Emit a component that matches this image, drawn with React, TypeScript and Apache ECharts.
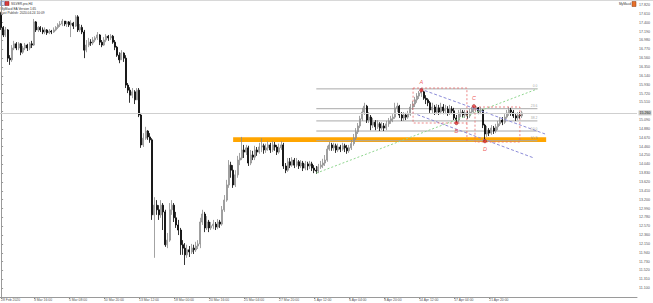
import React, { useEffect, useRef } from "react";
import * as echarts from "echarts";

// ---------- data (SILVER.pro, H4) ----------
const firstOpen = 17.58;
const closes = [
  17.29, 17.11, 17.23, 16.56, 16.52, 16.80, 16.90, 16.80, 16.90, 16.70,
  16.80, 16.87, 16.80, 16.90, 16.87, 17.42, 17.23, 17.29, 17.23, 17.18,
  17.23, 17.16, 17.20, 17.18, 17.23, 17.29, 17.35, 17.37, 17.44, 17.37,
  17.42, 17.35, 17.39, 17.32, 17.54, 17.23, 17.29, 17.18, 16.75, 16.87,
  16.94, 16.92, 16.99, 17.04, 17.11, 16.94, 16.87, 16.99, 17.08, 17.04,
  17.08, 16.94, 16.82, 16.63, 16.52, 16.68, 16.56, 15.92, 15.80, 15.68,
  15.76, 15.57, 15.80, 15.21, 14.50, 14.66, 14.83, 14.69, 14.62, 12.84,
  13.07, 12.96, 12.84, 13.07, 12.91, 12.13, 12.24, 12.96, 13.07, 12.77,
  12.60, 12.48, 12.13, 12.05, 11.89, 12.01, 11.96, 12.05, 12.01, 12.10,
  12.15, 12.67, 12.86, 12.53, 12.67, 12.53, 12.58, 12.62, 12.55, 12.67,
  12.62, 12.96, 13.19, 13.55, 14.02, 13.90, 13.55, 13.79, 14.14, 14.19,
  14.38, 14.33, 14.43, 14.07, 14.26, 14.21, 14.38, 14.33, 14.45, 14.48,
  14.38, 14.43, 14.50, 14.38, 14.50, 14.45, 14.33, 14.43, 14.50, 14.00,
  13.90, 14.10, 14.02, 14.14, 14.02, 14.10, 14.00, 14.07, 13.95, 14.05,
  14.00, 14.05, 13.95, 13.90, 13.88, 13.98, 14.02, 14.07, 14.14, 14.40,
  14.50, 14.43, 14.48, 14.38, 14.45, 14.40, 14.48, 14.43, 14.36, 14.43,
  14.53, 14.66, 14.81, 14.95, 15.12, 15.28, 15.42, 15.09, 15.16, 14.97,
  15.04, 14.93, 15.00, 14.90, 14.95, 14.90, 15.00, 15.07, 15.12, 15.16,
  15.38, 15.42, 15.21, 15.14, 15.21, 15.16, 15.23, 15.40, 15.47, 15.57,
  15.66, 15.73, 15.76, 15.61, 15.57, 15.50, 15.33, 15.40, 15.28, 15.38,
  15.28, 15.40, 15.31, 15.35, 15.26, 15.35, 15.31, 15.14, 15.09, 15.26,
  15.28, 15.21, 15.26, 15.19, 15.28, 15.35, 15.35, 15.38, 15.28, 15.33,
  14.97, 14.76, 14.85, 14.78, 14.90, 14.83, 14.93, 15.00, 15.09, 15.04,
  15.16, 15.26, 15.33, 15.28, 15.19, 15.14, 15.21, 15.19, 15.26,
];
const highs = [
  17.65, 17.32, 17.30, 17.25, 16.63, 16.87, 16.97, 16.94, 16.94, 16.92,
  16.85, 16.92, 16.90, 16.94, 16.97, 17.49, 17.44, 17.32, 17.32, 17.29,
  17.29, 17.25, 17.25, 17.23, 17.29, 17.32, 17.39, 17.44, 17.49, 17.44,
  17.44, 17.44, 17.46, 17.42, 17.58, 17.58, 17.37, 17.35, 17.23, 16.99,
  17.04, 17.01, 17.06, 17.08, 17.18, 17.13, 16.99, 17.06, 17.13, 17.11,
  17.13, 17.11, 16.99, 16.85, 16.70, 16.75, 16.70, 16.63, 15.97, 15.87,
  15.85, 15.80, 15.85, 15.85, 15.26, 14.78, 14.93, 14.85, 14.78, 14.66,
  13.26, 13.19, 13.07, 13.19, 13.12, 12.96, 12.41, 13.12, 13.19, 13.12,
  12.91, 12.72, 12.53, 12.24, 12.17, 12.13, 12.10, 12.15, 12.13, 12.20,
  12.24, 12.77, 12.96, 12.91, 12.81, 12.72, 12.67, 12.72, 12.67, 12.74,
  12.72, 13.05, 13.31, 13.67, 14.14, 14.10, 14.02, 13.90, 14.24, 14.31,
  14.69, 14.50, 14.50, 14.48, 14.38, 14.36, 14.48, 14.45, 14.55, 14.66,
  14.53, 14.53, 14.59, 14.55, 14.59, 14.57, 14.50, 14.53, 14.59, 14.55,
  14.07, 14.19, 14.19, 14.21, 14.19, 14.19, 14.14, 14.14, 14.12, 14.12,
  14.10, 14.12, 14.10, 14.02, 14.00, 14.05, 14.12, 14.17, 14.26, 14.48,
  14.57, 14.55, 14.55, 14.53, 14.53, 14.50, 14.55, 14.53, 14.50, 14.50,
  14.62, 14.76, 14.90, 15.02, 15.19, 15.38, 15.50, 15.45, 15.28, 15.21,
  15.14, 15.09, 15.09, 15.04, 15.04, 15.02, 15.07, 15.14, 15.19, 15.23,
  15.50, 15.50, 15.45, 15.28, 15.28, 15.26, 15.31, 15.47, 15.54, 15.64,
  15.73, 15.78, 15.80, 15.78, 15.68, 15.61, 15.54, 15.50, 15.45, 15.47,
  15.45, 15.50, 15.47, 15.45, 15.42, 15.45, 15.42, 15.38, 15.21, 15.33,
  15.35, 15.33, 15.33, 15.31, 15.35, 15.40, 15.42, 15.42, 15.40, 15.40,
  15.35, 15.00, 14.95, 14.90, 14.97, 14.95, 15.00, 15.07, 15.16, 15.16,
  15.23, 15.33, 15.40, 15.38, 15.33, 15.26, 15.28, 15.28, 15.31,
];
const lows = [
  17.23, 17.06, 17.06, 16.47, 16.40, 16.47, 16.75, 16.75, 16.75, 16.63,
  16.66, 16.75, 16.73, 16.75, 16.80, 16.85, 17.18, 17.18, 17.18, 17.13,
  17.13, 17.11, 17.13, 17.13, 17.16, 17.20, 17.25, 17.30, 17.32, 17.32,
  17.30, 17.30, 17.06, 17.25, 17.30, 17.18, 17.18, 17.13, 16.56, 16.70,
  16.82, 16.85, 16.87, 16.94, 16.99, 16.87, 16.82, 16.85, 16.94, 16.97,
  16.99, 16.90, 16.75, 16.59, 16.44, 16.52, 16.47, 15.85, 15.73, 15.50,
  15.61, 15.47, 15.57, 15.16, 14.43, 14.45, 14.62, 14.62, 14.55, 12.72,
  11.82, 12.84, 12.72, 12.77, 12.48, 12.08, 12.05, 12.20, 12.84, 12.67,
  12.53, 12.36, 11.89, 11.89, 11.65, 11.82, 11.84, 11.91, 11.91, 11.96,
  12.03, 12.05, 12.60, 12.43, 12.48, 12.43, 12.48, 12.50, 12.48, 12.50,
  12.53, 12.58, 12.91, 13.15, 13.48, 13.72, 13.48, 13.50, 13.72, 14.02,
  14.14, 14.19, 14.26, 14.00, 14.02, 14.14, 14.14, 14.24, 14.29, 14.33,
  14.29, 14.31, 14.36, 14.31, 14.33, 14.36, 14.26, 14.29, 14.38, 13.93,
  13.83, 13.86, 13.95, 13.98, 13.95, 13.98, 13.93, 13.95, 13.88, 13.90,
  13.90, 13.93, 13.88, 13.83, 13.81, 13.83, 13.93, 13.95, 14.00, 14.10,
  14.36, 14.36, 14.36, 14.31, 14.33, 14.33, 14.36, 14.33, 14.29, 14.31,
  14.38, 14.48, 14.62, 14.76, 14.90, 15.07, 15.21, 15.02, 15.02, 14.85,
  14.90, 14.85, 14.88, 14.83, 14.85, 14.83, 14.85, 14.93, 15.00, 15.04,
  15.12, 15.28, 15.14, 15.07, 15.07, 15.09, 15.12, 15.19, 15.33, 15.40,
  15.50, 15.59, 15.64, 15.57, 15.47, 15.42, 15.26, 15.26, 15.21, 15.23,
  15.21, 15.23, 15.23, 15.23, 15.19, 15.21, 15.23, 15.09, 15.02, 15.04,
  15.16, 15.14, 15.14, 15.12, 15.14, 15.23, 15.26, 15.28, 15.23, 15.23,
  14.90, 14.59, 14.69, 14.71, 14.74, 14.76, 14.78, 14.85, 14.95, 14.97,
  15.00, 15.12, 15.19, 15.19, 15.14, 15.07, 15.09, 15.12, 15.14,
];

// x axis: bar slots (incl. empty right margin) and labelled bars
const totalSlots = 291;
const tickBars = [0, 15, 31, 47, 63, 79, 95, 111, 127, 143, 159, 175, 191, 207, 223];
const tickLabels = [
  "28 Feb 2020", "3 Mar 16:00", "5 Mar 08:00", "10 Mar 20:00", "13 Mar 12:00",
  "18 Mar 00:00", "20 Mar 16:00", "25 Mar 04:00", "27 Mar 20:00", "1 Apr 12:00",
  "6 Apr 04:00", "8 Apr 20:00", "14 Apr 12:00", "17 Apr 04:00", "21 Apr 20:00",
];

// y axis
const yMin = 10.89;
const yMax = 17.94;
const yStep = 0.21;
const bidPrice = 15.26;

// drawings (bar index, price)
const fibLevels = ["0.0", "23.6", "38.2", "50.0", "61.8"];
const fibPrices = [15.83, 15.36, 15.07, 14.83, 14.6];
const fibBars = [144, 245];
const trendBars = [144, 245];
const trendPrices = [13.83, 15.83];
const channelUpperBars = [191.4, 248.5];
const channelUpperPrices = [15.83, 14.76];
const channelLowerBars = [188, 243.4];
const channelLowerPrices = [15.26, 14.19];
const zoneBars = [106, 249];
const zonePrices = [14.68, 14.57];
const box1Bars = [188.2, 212.8];
const box1Prices = [15.85, 15.02];
const box2Bars = [216.5, 237];
const box2Prices = [15.4, 14.57];
const splitBar = 212.8;
const splitPrices = [15.02, 14.57];
const markerLetters = ["A", "B", "C", "D"];
const markerBars = [192, 208, 216, 221];
const markerPrices = [15.8, 15.02, 15.42, 14.59];
const markerPlace = ["top", "bottom", "top", "bottom"];

const FONT = "Liberation Sans";

export default function App() {
  const ref = useRef<HTMLDivElement>(null);

  useEffect(() => {
    document.body.style.margin = "0";
    if (!ref.current) return;
    const chart = echarts.init(ref.current, null, { renderer: "svg" });

    const candles = closes.map((c, i) => {
      const o = i === 0 ? firstOpen : closes[i - 1];
      return [o, c, Math.min(lows[i], o, c), Math.max(highs[i], o, c)];
    });
    const tickSet = new Set(tickBars);
    const categories = Array.from({ length: totalSlots }, (_, i) => {
      const k = tickBars.indexOf(i);
      return k >= 0 ? tickLabels[k] : "";
    });
    const isTick = (index: number) => tickSet.has(index);

    const seg = (data: number[][], color: string, type: any, width = 1, z = 4) => ({
      type: "line",
      xAxisIndex: 1,
      yAxisIndex: 0,
      data,
      symbol: "none",
      showSymbol: false,
      silent: true,
      lineStyle: { color, type, width },
      z,
    });
    const box = (bx: number[], py: number[]) => [
      [bx[0], py[0]], [bx[1], py[0]], [bx[1], py[1]], [bx[0], py[1]], [bx[0], py[0]],
    ];

    const series: any[] = [
      {
        type: "line",
        xAxisIndex: 1,
        yAxisIndex: 0,
        data: [[zoneBars[0], (zonePrices[0] + zonePrices[1]) / 2], [zoneBars[1], (zonePrices[0] + zonePrices[1]) / 2]],
        symbol: "none",
        showSymbol: false,
        silent: true,
        lineStyle: { opacity: 0 },
        z: 1,
        markArea: {
          silent: true,
          itemStyle: { color: "#ffa500", opacity: 1 },
          data: [[{ coord: [zoneBars[0], zonePrices[0]] }, { coord: [zoneBars[1], zonePrices[1]] }]],
        },
      },
      {
        type: "candlestick",
        xAxisIndex: 0,
        yAxisIndex: 0,
        data: candles,
        barWidth: 1.5,
        z: 3,
        itemStyle: {
          color: "#d4d4d4",
          color0: "#000000",
          borderColor: "#8c8c8c",
          borderColor0: "#000000",
          borderWidth: 0.8,
        },
        markLine: {
          silent: true,
          symbol: ["none", "none"],
          data: [{ yAxis: bidPrice }],
          lineStyle: { color: "#cfcfcf", type: "solid", width: 1 },
          label: {
            show: true,
            position: "end",
            distance: 1.5,
            formatter: bidPrice.toFixed(3),
            fontSize: 3.6,
            fontFamily: FONT,
            color: "#222",
            backgroundColor: "#c8c8c8",
            padding: [0.5, 1],
          },
        },
      },
      ...fibPrices.map((p) => seg([[fibBars[0], p], [fibBars[1], p]], "#a9a9a9", "solid", 1, 2)),
      seg([[trendBars[0], trendPrices[0]], [trendBars[1], trendPrices[1]]], "#8fd68f", [2, 2], 1),
      seg([[channelUpperBars[0], channelUpperPrices[0]], [channelUpperBars[1], channelUpperPrices[1]]], "#8c8cd8", [3, 2], 1),
      seg([[channelLowerBars[0], channelLowerPrices[0]], [channelLowerBars[1], channelLowerPrices[1]]], "#8c8cd8", [3, 2], 1),
      seg(box(box1Bars, box1Prices), "#e86a6a", [2, 2], 0.8, 5),
      seg(box(box2Bars, box2Prices), "#e86a6a", [2, 2], 0.8, 5),
      seg([[splitBar, splitPrices[0]], [splitBar, splitPrices[1]]], "#e86a6a", [2, 2], 0.8, 5),
      {
        type: "scatter",
        xAxisIndex: 1,
        yAxisIndex: 0,
        silent: true,
        symbolSize: 1,
        itemStyle: { color: "rgba(0,0,0,0)" },
        z: 6,
        data: fibPrices.map((p, i) => ({
          value: [fibBars[1], p],
          label: { formatter: fibLevels[i] },
        })),
        label: {
          show: true,
          position: "top",
          align: "right",
          distance: 0.5,
          fontSize: 3.4,
          fontFamily: FONT,
          color: "#8a8a8a",
        },
      },
      {
        type: "scatter",
        xAxisIndex: 1,
        yAxisIndex: 0,
        silent: true,
        symbol: "circle",
        symbolSize: 3.5,
        itemStyle: { color: "#e83030", borderColor: "#7a1c1c", borderWidth: 0.5 },
        z: 7,
        data: markerBars.map((b, i) => ({
          value: [b, markerPrices[i]],
          label: { position: markerPlace[i], formatter: markerLetters[i] },
        })),
        label: {
          show: true,
          distance: 3,
          fontSize: 5.5,
          fontStyle: "italic",
          fontFamily: FONT,
          color: "#e83030",
        },
      },
    ];

    const option: any = {
      animation: false,
      backgroundColor: "#ffffff",
      textStyle: { fontFamily: FONT },
      grid: { left: 0, right: 16, top: 0, bottom: 6, containLabel: false, outerBoundsMode: "none" },
      xAxis: [
        {
          type: "category",
          data: categories,
          boundaryGap: true,
          axisLine: { show: true, lineStyle: { color: "#9a9a9a", width: 1 } },
          axisTick: {
            show: true,
            alignWithLabel: true,
            interval: isTick,
            length: 2,
            lineStyle: { color: "#9a9a9a" },
          },
          axisLabel: {
            interval: isTick,
            fontSize: 3.4,
            fontFamily: FONT,
            color: "#555",
            align: "left",
            margin: 1.5,
          },
          splitLine: { show: false },
        },
        { type: "value", min: -0.5, max: totalSlots - 0.5, show: false },
      ],
      yAxis: [
        {
          type: "value",
          position: "right",
          min: yMin,
          max: yMax,
          interval: yStep,
          axisLine: { show: true, lineStyle: { color: "#9a9a9a", width: 1 } },
          axisTick: { show: true, length: 2, lineStyle: { color: "#9a9a9a" } },
          axisLabel: {
            fontSize: 3.6,
            fontFamily: FONT,
            color: "#555",
            margin: 2,
            showMinLabel: false,
            showMaxLabel: false,
            // the bid-price tag sits on top of the neighbouring tick label
            formatter: (v: number) => (Math.abs(v - bidPrice) < 0.08 ? "" : v.toFixed(3)),
          },
          splitLine: { show: false },
        },
      ],
      graphic: [
        { type: "line", shape: { x1: 0, y1: 0.5, x2: 653, y2: 0.5 }, style: { stroke: "#d8d8d8", lineWidth: 1 } },
        { type: "rect", shape: { x: 0.5, y: 1.5, width: 4, height: 4 }, style: { fill: "#dfe8f7", stroke: "#4d6fb8", lineWidth: 0.5 } },
        { type: "rect", shape: { x: 5, y: 1.5, width: 4, height: 4 }, style: { fill: "#d83a3a", stroke: "#8a1f1f", lineWidth: 0.5 } },
        { type: "text", x: 11, y: 3.5, style: { text: "SILVER.pro,H4", fontSize: 3.2, fontFamily: FONT, fill: "#333", verticalAlign: "middle" } },
        { type: "text", x: 0.5, y: 8.8, style: { text: "MyMacd EA Version 1.65", fontSize: 3.2, fontFamily: FONT, fill: "#333", verticalAlign: "middle" } },
        { type: "text", x: 0.5, y: 13.2, style: { text: "Last Publish: 2020.04.24 10:09", fontSize: 3.2, fontFamily: FONT, fill: "#333", verticalAlign: "middle" } },
        { type: "text", x: 631, y: 4, style: { text: "MyMacd", fontSize: 3.2, fontFamily: FONT, fill: "#333", align: "right", verticalAlign: "middle" } },
        { type: "rect", shape: { x: 632, y: 1.5, width: 4, height: 5 }, style: { fill: "#e8702a", stroke: "#8a3a10", lineWidth: 0.5 } },
      ],
      series,
    };

    chart.setOption(option);
    return () => chart.dispose();
  }, []);

  return <div ref={ref} style={{ width: 653, height: 303 }} />;
}
